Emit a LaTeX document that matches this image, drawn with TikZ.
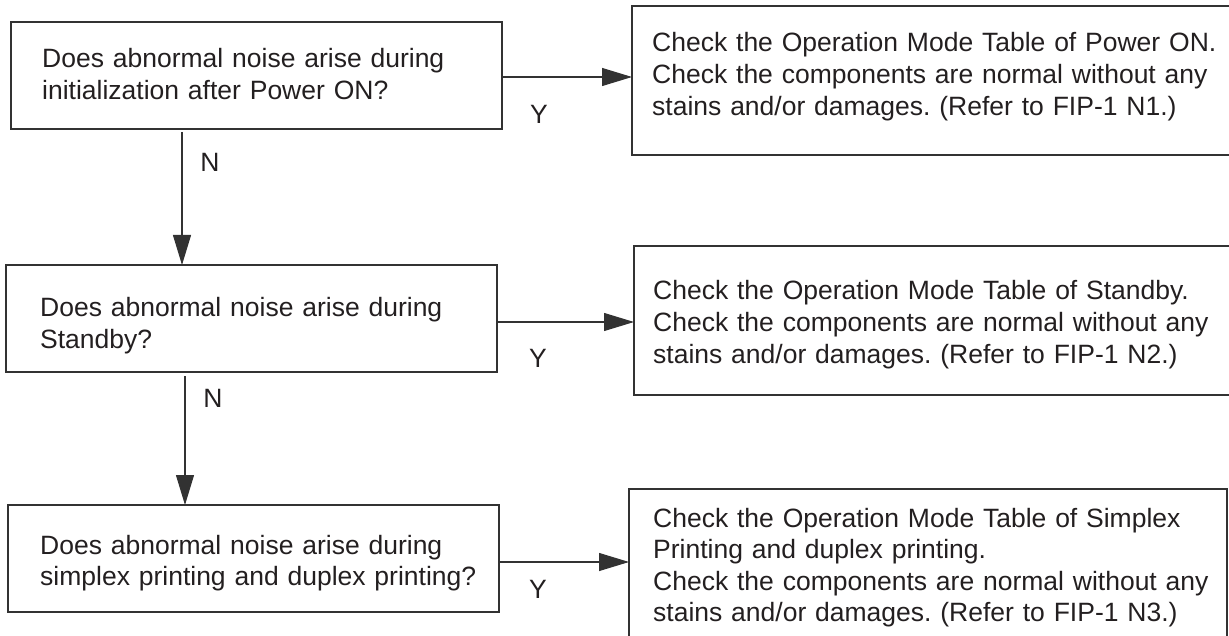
\documentclass[tikz,border=0pt]{standalone}
\usepackage{fontspec}
\setmainfont{Liberation Sans}
\usetikzlibrary{arrows.meta}
\definecolor{ink}{RGB}{35,31,32}
\definecolor{edge}{RGB}{50,50,50}
\frenchspacing
\begin{document}
\frenchspacing
\begin{tikzpicture}[x=1pt,y=-1pt,
  box/.style={draw=edge, line width=1.1pt, rectangle, inner sep=0pt, outer sep=0pt, anchor=north west},
  txt/.style={font=\fontsize{26.5pt}{31.6pt}\selectfont\frenchspacing, text=ink, inner sep=0pt, anchor=base west, align=left, text width=#1},
  lbl/.style={font=\fontsize{26.5pt}{31.6pt}\selectfont, text=ink, inner sep=0pt, anchor=base},
  arr/.style={draw=edge, line width=1.1pt, -{Triangle[length=30pt,width=18pt]}}
]
\useasboundingbox (0,0) rectangle (1229,636);
\clip (0,0) rectangle (1229,636);

% question boxes
\node[box, minimum width=491pt, minimum height=107pt] (q1) at (11,22) {};
\node[box, minimum width=491pt, minimum height=107pt] (q2) at (6,265) {};
\node[box, minimum width=491pt, minimum height=107pt] (q3) at (8,505) {};

% result boxes
\node[box, minimum width=620pt, minimum height=149pt] (r1) at (632,6) {};
\node[box, minimum width=620pt, minimum height=149pt] (r2) at (634,246) {};
\node[box, minimum width=598pt, minimum height=180pt] (r3) at (629,489) {};

% texts
\node[txt=440pt] (q1t) at (42,68) {Does abnormal noise arise during\\initialization after Power ON?};
\node[txt=440pt] (q2t) at (40,317) {Does abnormal noise arise during\\Standby?};
\node[txt=450pt] (q3t) at (40,554) {Does abnormal noise arise during\\simplex printing and duplex printing?};

\node[txt=570pt] (r1t) at (652,52) {Check the Operation Mode Table of Power ON.\\Check the components are normal without any\\stains and/or damages. (Refer to FIP-1 N1.)};
\node[txt=570pt] (r2t) at (653,300) {Check the Operation Mode Table of Standby.\\Check the components are normal without any\\stains and/or damages. (Refer to FIP-1 N2.)};
\node[txt=570pt] (r3t) at (653,527) {Check the Operation Mode Table of Simplex\\Printing and duplex printing.\\Check the components are normal without any\\stains and/or damages. (Refer to FIP-1 N3.)};

% helper coordinates
\coordinate (h1) at (0,77);
\coordinate (h2) at (0,322);
\coordinate (h3) at (0,562);
\coordinate (v1) at (182,0);
\coordinate (v2) at (185,0);

% connectors
\draw[arr] (q1.east |- h1) -- (r1.west |- h1);
\draw[arr] (q2.east |- h2) -- (r2.west |- h2);
\draw[arr] (q3.east |- h3) -- (r3.west |- h3);
\draw[arr, shorten <=3pt] (q1.south -| v1) -- (q2.north -| v1);
\draw[arr, shorten <=4pt] (q2.south -| v2) -- (q3.north -| v2);

% labels
\node[lbl] (y1) at (539,124) {Y};
\node[lbl] (y2) at (538,367) {Y};
\node[lbl] (y3) at (538,598) {Y};
\node[lbl] (n1) at (210,172) {N};
\node[lbl] (n2) at (213,407) {N};
\end{tikzpicture}
\end{document}
